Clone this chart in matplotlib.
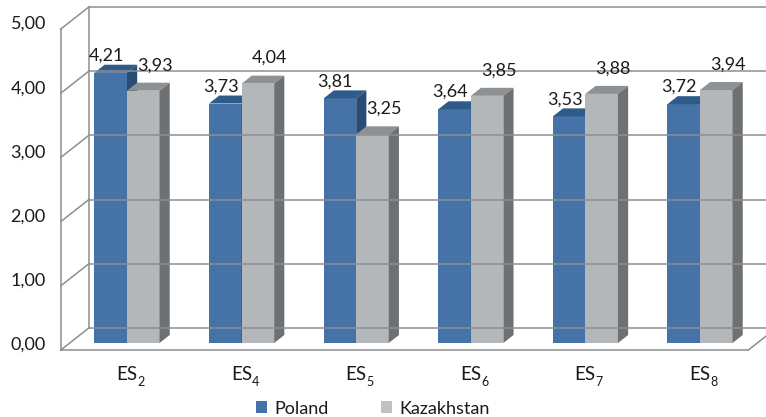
import matplotlib
matplotlib.use("Agg")
import matplotlib.pyplot as plt
from matplotlib.patches import Polygon, Rectangle

# ------------------------------------------------
# DATA
# ------------------------------------------------
categories = ["2", "4", "5", "6", "7", "8"]
poland = [4.21, 3.73, 3.81, 3.64, 3.53, 3.72]
kazakhstan = [3.93, 4.04, 3.25, 3.85, 3.88, 3.94]
y_ticks = [0, 1, 2, 3, 4, 5]

# ------------------------------------------------
# STYLE
# ------------------------------------------------
plt.rcParams["font.family"] = ["Lato", "DejaVu Sans"]

blue = ("#4572a7", "#2f5b8a", "#294c74")   # front, top, side
grey = ("#b4b7b9", "#8e9194", "#6e7173")
line_col = "#8e8e8e"
text_col = "#1a1a1a"
fs = 13

W, H = 766, 417
fig = plt.figure(figsize=(W / 100, H / 100), dpi=100)
ax = fig.add_axes([0, 0, 1, 1])

# pixel scale of the bar front plane
px_x = 114.6          # px per category
px_y = 64.2           # px per value unit
x0_px, y0_px = 127, 343
ax.set_xlim(-x0_px / px_x, (W - x0_px) / px_x)
ax.set_ylim((y0_px - H) / px_y, y0_px / px_y)
ax.axis("off")

# depth vector of the whole box, in data units
Dx, Dy = 28 / px_x, 22 / px_y
f_front, f_back, f_bar = -0.318, 0.682, 0.364
bar_w = 0.284
x_left, x_right = -0.5, len(categories) - 0.5
top = y_ticks[-1]


def shift(x, y, f):
    return x + f * Dx, y + f * Dy


# ------------------------------------------------
# WALLS AND GRID
# ------------------------------------------------
for v in y_ticks:
    bl = shift(x_left, v, f_back)
    br = shift(x_right, v, f_back)
    fl = shift(x_left, v, f_front)
    ax.plot([bl[0], br[0]], [bl[1], br[1]], color=line_col, lw=1.1, solid_capstyle="butt")
    ax.plot([fl[0], bl[0]], [fl[1], bl[1]], color=line_col, lw=1.1)
    ax.text(fl[0] - 0.13, v - 0.03, f"{v:.2f}".replace(".", ","),
            ha="right", va="center", fontsize=fs, color=text_col)

# vertical edges of the left wall
for f in (f_front, f_back):
    a = shift(x_left, 0, f)
    b = shift(x_left, top, f)
    ax.plot([a[0], b[0]], [a[1], b[1]], color=line_col, lw=1.1)

# floor front and right edge
fl = shift(x_left, 0, f_front)
fr = shift(x_right, 0, f_front)
br = shift(x_right, 0, f_back)
ax.plot([fl[0], fr[0]], [fl[1], fr[1]], color=line_col, lw=1.1)
ax.plot([fr[0], br[0]], [fr[1], br[1]], color=line_col, lw=1.1)


# ------------------------------------------------
# BARS
# ------------------------------------------------
def draw_bar(x, h, cols):
    front, top_c, side = cols
    ax.add_patch(Rectangle((x, 0), bar_w, h, facecolor=front, edgecolor="none"))
    ddx, ddy = f_bar * Dx, f_bar * Dy
    ax.add_patch(Polygon([(x, h), (x + bar_w, h), (x + bar_w + ddx, h + ddy), (x + ddx, h + ddy)],
                         closed=True, facecolor=top_c, edgecolor="none"))
    ax.add_patch(Polygon([(x + bar_w, 0), (x + bar_w + ddx, ddy), (x + bar_w + ddx, h + ddy), (x + bar_w, h)],
                         closed=True, facecolor=side, edgecolor="none"))


for i, (p, k) in enumerate(zip(poland, kazakhstan)):
    draw_bar(i - bar_w, p, blue)
    draw_bar(i, k, grey)
    ax.text(i - bar_w / 2 - 0.04, p + 0.19, f"{p:.2f}".replace(".", ","),
            ha="center", va="baseline", fontsize=fs, color=text_col)
    ax.text(i + bar_w / 2 + 0.1, k + 0.32, f"{k:.2f}".replace(".", ","),
            ha="center", va="baseline", fontsize=fs, color=text_col)
    # category label "ES" with subscript number
    ax.text(i + 0.09, -0.58, "ES", ha="right", va="baseline",
            fontsize=fs + 0.5, color=text_col)
    ax.annotate(categories[i], (i + 0.09, -0.58), xytext=(0, -4),
                textcoords="offset points", ha="left", va="baseline",
                fontsize=9, color=text_col)

# ------------------------------------------------
# LEGEND
# ------------------------------------------------
handles = [Rectangle((0, 0), 1, 1, facecolor=blue[0]),
           Rectangle((0, 0), 1, 1, facecolor="#c0c1c3")]
fig.legend(handles, ["Poland", "Kazakhstan"], loc="lower center",
           bbox_to_anchor=(0.487, -0.038), ncol=2, frameon=False,
           fontsize=fs, handlelength=0.6, handleheight=0.6,
           handletextpad=0.4, columnspacing=2.9, labelcolor=text_col)

fig.savefig("out.png", dpi=100)
